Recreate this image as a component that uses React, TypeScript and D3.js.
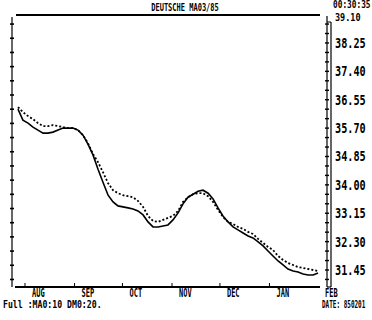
import React from "react";
import * as d3 from "d3";

// Days since 1 Aug 1984 for each sample
const days = [
  -4.4, -1.3, 1.9, 5.0, 8.1, 11.3, 14.4, 17.5, 20.7, 23.8, 26.9, 30.0, 33.2, 36.3, 39.4, 42.6,
  45.7, 48.8, 52.0, 55.1, 58.2, 61.3, 64.5, 67.6, 70.7, 73.9, 77.0, 80.1, 83.3, 86.4, 89.5,
  92.6, 95.8, 98.9, 102.0, 105.2, 108.3, 111.4, 114.6, 117.7, 120.8, 123.9, 127.1, 130.2,
  133.3, 136.5, 139.6, 142.7, 145.9, 149.0, 152.1, 155.2, 158.4, 161.5, 164.6, 167.8, 170.9,
  174.0, 177.2, 180.3, 183.4,
];

// Solid series (price)
const priceSolid = [
  36.27, 35.94, 35.85, 35.73, 35.64, 35.55, 35.55, 35.58, 35.64, 35.7, 35.7, 35.7, 35.64, 35.49,
  35.22, 34.89, 34.47, 34.08, 33.69, 33.49, 33.37, 33.34, 33.31, 33.28, 33.22, 33.1, 32.89,
  32.74, 32.74, 32.77, 32.8, 32.95, 33.16, 33.43, 33.63, 33.72, 33.81, 33.84, 33.75, 33.58,
  33.31, 33.07, 32.89, 32.74, 32.65, 32.56, 32.47, 32.41, 32.29, 32.17, 32.02, 31.87, 31.72,
  31.6, 31.48, 31.42, 31.39, 31.33, 31.3, 31.3, 31.36,
];

// Dotted series (average)
const priceDotted = [
  36.33, 36.18, 36.06, 35.97, 35.85, 35.76, 35.76, 35.79, 35.76, 35.73, 35.7, 35.7, 35.64, 35.49,
  35.25, 34.92, 34.68, 34.38, 34.05, 33.84, 33.75, 33.69, 33.66, 33.63, 33.52, 33.34, 33.07,
  32.92, 32.89, 32.95, 33.01, 33.07, 33.22, 33.49, 33.63, 33.72, 33.75, 33.75, 33.66, 33.49,
  33.25, 33.04, 32.89, 32.83, 32.74, 32.68, 32.59, 32.53, 32.38, 32.26, 32.14, 32.05, 31.87,
  31.75, 31.66, 31.6, 31.54, 31.51, 31.48, 31.45, 31.42,
];

const monthLabels = ["AUG", "SEP", "OCT", "NOV", "DEC", "JAN", "FEB"];
const monthDays = [0, 31, 61, 92, 122, 153, 184];
const yLabels = [39.1, 38.25, 37.4, 36.55, 35.7, 34.85, 34.0, 33.15, 32.3, 31.45];

const title = "DEUTSCHE MA03/85";
const timeText = "00:30:35";
const footLeft = "Full :MA0:10 DM0:20.";
const footRight = "DATE: 850201";

const FONT = "'DejaVu Sans Mono', monospace";

export default function App() {
  const x = d3.scaleLinear().domain([0, 184]).range([25, 319]);
  const y = d3.scaleLinear().domain([31.45, 39.1]).range([270, 14.6]);

  const line = d3
    .line<number>()
    .x((_, i) => x(days[i]))
    .y((d) => y(d));

  const rightTicks = d3.range(1, 29).map((k) => 39.1 - (k * 0.85) / 3);
  const leftTicks = d3.range(0, 19).map((k) => 39.1 - 0.85 / 3 - k * 0.425);

  const bottom = 287;
  const T = (
    tx: number,
    ty: number,
    sx: number,
    sy: number,
    txt: string,
    size: number,
    anchor = "start"
  ) => (
    <text
      transform={`translate(${tx},${ty}) scale(${sx},${sy})`}
      fontFamily={FONT}
      fontWeight="bold"
      fontSize={size}
      textAnchor={anchor}
      fill="#000"
    >
      {txt}
    </text>
  );

  return (
    <svg
      width={372}
      height={320}
      style={{ position: "absolute", left: 0, top: 0, background: "#fff" }}
    >
      <rect x={0} y={0} width={372} height={320} fill="#fff" />
      {/* title */}
      {T(185, 10.5, 0.74, 1.05, title, 9.5, "middle")}
      <line x1={16} x2={320} y1={15} y2={15} stroke="#000" strokeWidth={2} />
      {T(333, 8, 0.78, 1, timeText, 10)}

      {/* left axis */}
      <line x1={12} x2={12} y1={17} y2={bottom} stroke="#000" strokeWidth={1.2} />
      {leftTicks.map((v, i) => (
        <line key={i} x1={10} x2={14} y1={y(v)} y2={y(v)} stroke="#000" strokeWidth={1.6} />
      ))}

      {/* bottom axis */}
      <line x1={15} x2={320} y1={bottom} y2={bottom} stroke="#000" strokeWidth={2} />
      {monthDays.slice(0, 6).map((d, i) => (
        <line key={i} x1={x(d)} x2={x(d)} y1={bottom - 4} y2={bottom} stroke="#000" strokeWidth={1} />
      ))}
      {monthLabels.map((m, i) =>
        <g key={m}>{T(x(monthDays[i]) + (i === 6 ? 6 : 7), 296.5, 0.7, 1.15, m, 10)}</g>
      )}

      {/* right axis */}
      <line x1={327} x2={327} y1={16} y2={bottom} stroke="#000" strokeWidth={1.2} />
      <line x1={331} x2={331} y1={22} y2={bottom} stroke="#000" strokeWidth={1.2} />
      <line x1={327} x2={331} y1={22} y2={22} stroke="#000" strokeWidth={1} />
      <line x1={327} x2={331} y1={bottom} y2={bottom} stroke="#000" strokeWidth={1.2} />
      {rightTicks.map((v, i) => (
        <line key={i} x1={325} x2={329} y1={y(v)} y2={y(v)} stroke="#000" strokeWidth={1.4} />
      ))}
      {yLabels.map((v, i) => (
        <g key={v}>{T(335, y(v) + (i === 0 ? 6 : 5), 0.85, 1.1, v.toFixed(2), i === 0 ? 10 : 12)}</g>
      ))}

      {/* series */}
      <path d={line(priceDotted) ?? ""} fill="none" stroke="#000" strokeWidth={1.8} strokeDasharray="2,2" />
      <path d={line(priceSolid) ?? ""} fill="none" stroke="#000" strokeWidth={1.6} />

      {/* footer */}
      {T(3, 308, 0.82, 1.1, footLeft, 10)}
      {T(322, 308, 0.6, 1.1, footRight, 10)}
    </svg>
  );
}
